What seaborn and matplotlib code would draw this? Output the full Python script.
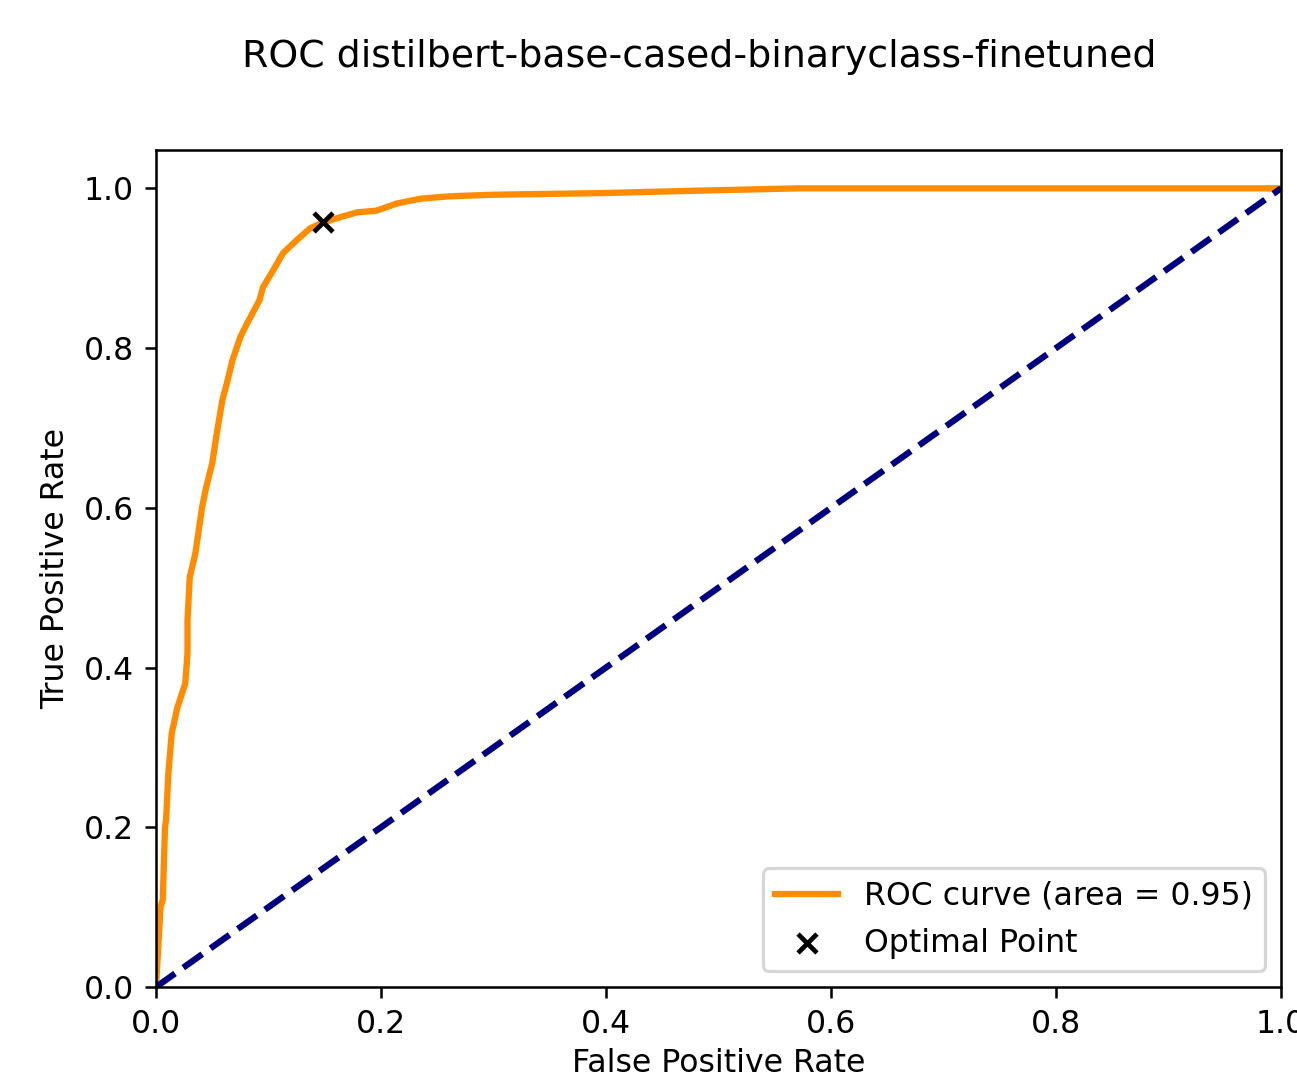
import matplotlib
matplotlib.use("Agg")
import matplotlib.pyplot as plt
import seaborn as sns
import pandas as pd

# values
fpr = [0.0, 0.002, 0.004, 0.006, 0.008, 0.009, 0.011, 0.014, 0.019, 0.026,
       0.028, 0.028, 0.030, 0.035, 0.041, 0.044, 0.050, 0.054, 0.059, 0.063,
       0.068, 0.075, 0.081, 0.092, 0.095, 0.104, 0.113, 0.125, 0.137, 0.148,
       0.164, 0.179, 0.196, 0.214, 0.235, 0.261, 0.300, 0.396, 0.479, 0.571,
       1.0]
tpr = [0.0, 0.05, 0.10, 0.109, 0.20, 0.21, 0.268, 0.318, 0.350, 0.380,
       0.418, 0.459, 0.513, 0.543, 0.601, 0.622, 0.656, 0.693, 0.735, 0.756,
       0.785, 0.814, 0.831, 0.860, 0.876, 0.897, 0.919, 0.935, 0.950, 0.957,
       0.964, 0.970, 0.972, 0.981, 0.987, 0.990, 0.992, 0.994, 0.997, 1.0,
       1.0]
roc_auc = 0.95
optimal_fpr = [0.148]
optimal_tpr = [0.958]
model_name = "distilbert-base-cased-binaryclass-finetuned"

roc_df = pd.DataFrame({"fpr": fpr, "tpr": tpr})
chance_df = pd.DataFrame({"fpr": [0, 1], "tpr": [0, 1]})
opt_df = pd.DataFrame({"fpr": optimal_fpr, "tpr": optimal_tpr})

dpi = 227
fig = plt.figure(figsize=(1297 / dpi, 1076 / dpi), dpi=dpi)
ax = fig.add_axes([156 / 1297, 89 / 1076, 1125 / 1297, 837 / 1076])

sns.lineplot(data=roc_df, x="fpr", y="tpr", color="darkorange", lw=2,
             estimator=None, sort=False,
             label=f"ROC curve (area = {roc_auc:.2f})", ax=ax)
sns.lineplot(data=chance_df, x="fpr", y="tpr", color="navy", lw=2,
             linestyle="--", estimator=None, ax=ax)
sns.scatterplot(data=opt_df, x="fpr", y="tpr", marker="x", color="black",
                s=36, linewidth=1.5, label="Optimal Point", ax=ax, zorder=3)

ax.set_xlim(0.0, 1.0)
ax.set_ylim(0.0, 1.048)
ax.set_xlabel("False Positive Rate", labelpad=2.5)
ax.set_ylabel("True Positive Rate")
ax.legend(loc="lower right")

fig.suptitle(f"ROC {model_name}", x=699.5 / 1297, y=1 - 57 / 1076,
             va="center", fontsize=12)

fig.savefig("out.png", dpi=dpi)
